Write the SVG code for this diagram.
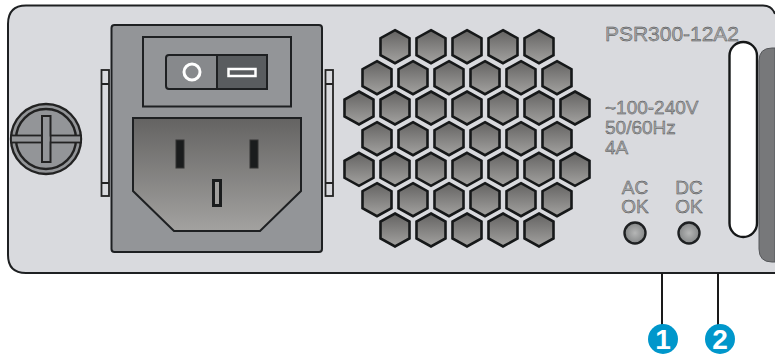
<svg xmlns="http://www.w3.org/2000/svg" width="775" height="354" viewBox="0 0 775 354">
<style>
.l{stroke:#1a1a1a;stroke-width:2;fill:none}
.t{font-family:"Liberation Sans",Arial,sans-serif;fill:#a4a6a8;stroke:#444;stroke-width:.4}
.b{font-family:"Liberation Sans",Arial,sans-serif;font-weight:700;font-size:28px;fill:#fff;text-anchor:middle}
.c{text-anchor:middle;font-size:19px}
.pin{fill:#1a1c1d;stroke:#333;stroke-width:1}
</style>
<defs>
<linearGradient id="g" x1="0" y1="0" x2="0" y2="1"><stop offset="0" stop-color="#646362"/><stop offset="1" stop-color="#a3a2a0"/></linearGradient>
<radialGradient id="led"><stop offset="0" stop-color="#b5b6b6"/><stop offset="1" stop-color="#858788"/></radialGradient>
<polygon id="h" points="0,-16.500 14.500,-8.500 14.500,8.500 0,16.500 -14.500,8.500 -14.500,-8.500" fill="url(#g)" stroke="#161819" stroke-width="2.600"/>
</defs>
<g id="panel">
<path d="M775,273H26Q8,273 8,255V24Q8,5.500 26,5.500H763Q772,5.500 775,14" fill="#d9dade" stroke="#1e2022" stroke-width="2"/>
<path d="M775,48H772Q759,48 759,61V249Q759,262 772,262H775Z" fill="#77787a" stroke="#55575a" stroke-width="1"/>
<rect x="729.500" y="42" width="27.500" height="195" rx="13.700" fill="#fff" stroke="#151718" stroke-width="2.400"/>
</g>
<g id="screw">
<circle cx="46" cy="139" r="35" fill="#939598" stroke="#222" stroke-width="2.400"/>
<circle cx="46" cy="139" r="30" fill="#939598" stroke="#222" stroke-width="2.400"/>
<rect x="11" y="135.500" width="70" height="7" fill="#939598" stroke="#222" stroke-width="1.800"/>
<path d="M42,116H50.500V162H42Z" fill="#939598" stroke="#222" stroke-width="2"/>
<rect x="43" y="136.500" width="6.500" height="5" fill="#939598"/>
</g>
<g id="clips" fill="#d9dade" stroke="#222" stroke-width="1.800">
<rect x="101.500" y="70" width="7.500" height="126"/><path d="M101.500,84H109M101.500,183H109"/>
<rect x="325.500" y="70" width="7.500" height="126"/><path d="M325.500,84H333M325.500,183H333"/>
</g>
<g id="power-module">
<rect x="111.500" y="25" width="210.500" height="227" rx="3" fill="#939598" stroke="#1e2022" stroke-width="2"/>
<rect x="143" y="37" width="148" height="69.500" fill="#939598" stroke="#1e2022" stroke-width="2"/>
<path d="M217,55H169Q166,55 166,58V86Q166,89 169,89H217Z" fill="#87898c" stroke="#1e2022" stroke-width="2"/>
<rect x="217" y="55" width="50" height="34" fill="#595c5f" stroke="#1e2022" stroke-width="2"/>
<circle cx="192" cy="72" r="8" fill="none" stroke="#fff" stroke-width="3"/>
<rect x="228.500" y="69" width="27" height="7" fill="#595c5f" stroke="#fff" stroke-width="2.500"/>
<polygon points="133,118 301,118 301,191 260,231 174,231 133,191" fill="url(#g)" stroke="#1e2022" stroke-width="2"/>
<rect x="176" y="140" width="8" height="28" class="pin"/>
<rect x="250" y="140" width="8" height="28" class="pin"/>
<rect x="212" y="179" width="10" height="28" fill="#1a1c1d"/>
<rect x="215" y="182" width="4" height="22" fill="#a09f9d"/>
</g>
<g id="vent">
<use href="#h" x="395" y="46.700"/><use href="#h" x="431" y="46.700"/><use href="#h" x="467" y="46.700"/><use href="#h" x="503" y="46.700"/><use href="#h" x="539" y="46.700"/>
<use href="#h" x="377" y="77.700"/><use href="#h" x="413" y="77.700"/><use href="#h" x="449" y="77.700"/><use href="#h" x="485" y="77.700"/><use href="#h" x="521" y="77.700"/><use href="#h" x="557" y="77.700"/>
<use href="#h" x="359" y="108"/><use href="#h" x="395" y="108"/><use href="#h" x="431" y="108"/><use href="#h" x="467" y="108"/><use href="#h" x="503" y="108"/><use href="#h" x="539" y="108"/><use href="#h" x="575" y="108"/>
<use href="#h" x="377" y="138.700"/><use href="#h" x="413" y="138.700"/><use href="#h" x="449" y="138.700"/><use href="#h" x="485" y="138.700"/><use href="#h" x="521" y="138.700"/><use href="#h" x="557" y="138.700"/>
<use href="#h" x="359" y="169.300"/><use href="#h" x="395" y="169.300"/><use href="#h" x="431" y="169.300"/><use href="#h" x="467" y="169.300"/><use href="#h" x="503" y="169.300"/><use href="#h" x="539" y="169.300"/><use href="#h" x="575" y="169.300"/>
<use href="#h" x="377" y="199.700"/><use href="#h" x="413" y="199.700"/><use href="#h" x="449" y="199.700"/><use href="#h" x="485" y="199.700"/><use href="#h" x="521" y="199.700"/><use href="#h" x="557" y="199.700"/>
<use href="#h" x="395" y="230"/><use href="#h" x="431" y="230"/><use href="#h" x="467" y="230"/><use href="#h" x="503" y="230"/><use href="#h" x="539" y="230"/>
</g>
<g id="labels">
<text class="t" x="605" y="41" font-size="21" textLength="134">PSR300-12A2</text>
<text class="t" x="605" y="114" font-size="19">~100-240V</text>
<text class="t" x="605" y="134" font-size="19">50/60Hz</text>
<text class="t" x="605" y="153.500" font-size="19">4A</text>
<text class="t c" x="635" y="194">AC</text>
<text class="t c" x="635" y="213">OK</text>
<text class="t c" x="689" y="194">DC</text>
<text class="t c" x="689" y="213">OK</text>
</g>
<g id="led-ac"><circle cx="635" cy="233" r="10.500" fill="url(#led)" stroke="#1e2022" stroke-width="2.400"/></g>
<g id="led-dc"><circle cx="689" cy="233" r="10.500" fill="url(#led)" stroke="#1e2022" stroke-width="2.400"/></g>
<g id="connectors">
<path class="l" d="M662,273V325M718,273V325"/>
</g>
<g id="badge-1"><circle cx="663" cy="339" r="15" fill="#0097cb"/><text class="b" x="663" y="349">1</text></g>
<g id="badge-2"><circle cx="720" cy="339" r="15" fill="#0097cb"/><text class="b" x="720" y="349">2</text></g>
</svg>
